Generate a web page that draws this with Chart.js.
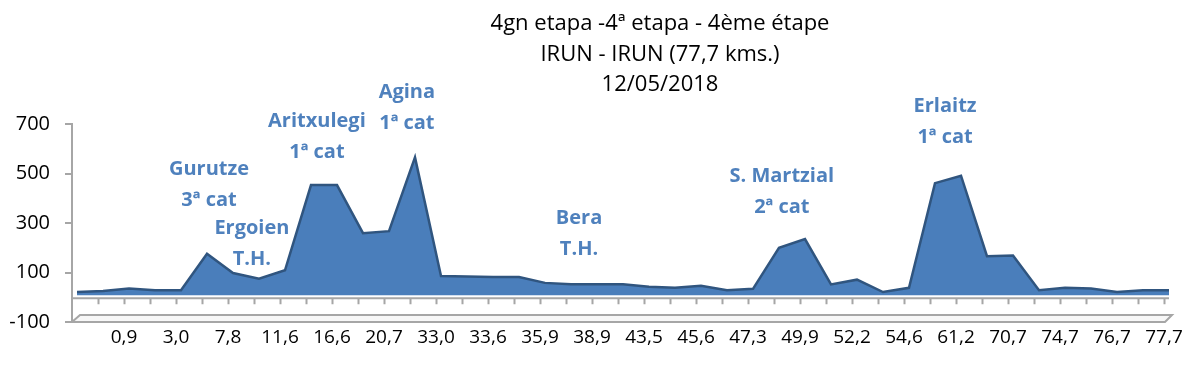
<!DOCTYPE html>
<html>
<head>
<meta charset="utf-8">
<script src="https://cdn.jsdelivr.net/npm/chart.js@4/dist/chart.umd.min.js"></script>
<style>
  html, body { margin: 0; padding: 0; background: #fff; }
  #wrap { width: 1200px; height: 379px; position: relative; }
</style>
</head>
<body>
<div id="wrap"><canvas id="c" width="1200" height="379"></canvas></div>
<script>
// ---- data ----
const titleLines = ['4gn etapa -4ª etapa - 4ème étape', 'IRUN - IRUN (77,7 kms.)', '12/05/2018'];
const categories = ['', '', '0,9', '', '3,0', '', '7,8', '', '11,6', '', '16,6', '', '20,7', '', '33,0', '',
  '33,6', '', '35,9', '', '38,9', '', '43,5', '', '45,6', '', '47,3', '', '49,9', '', '52,2', '',
  '54,6', '', '61,2', '', '70,7', '', '74,7', '', '76,7', '', '77,7'];
const altitudes = [13, 17, 27, 20, 20, 168, 90, 67, 101, 445, 445, 251, 259, 557, 78, 76,
  74, 74, 50, 44, 44, 44, 34, 30, 38, 20, 26, 192, 227, 44, 63, 13,
  30, 453, 483, 158, 161, 20, 30, 27, 13, 20, 20];
const yTicks = [-100, 100, 300, 500, 700];
const climbNames = [
  ['Gurutze', '3ª cat'],
  ['Ergoien', 'T.H.'],
  ['Aritxulegi', '1ª cat'],
  ['Agina', '1ª cat'],
  ['Bera', 'T.H.'],
  ['S. Martzial', '2ª cat'],
  ['Erlaitz', '1ª cat']
];
// anchor of each label's first line, in (category index, altitude) units
const climbAnchors = [
  [5.27, 518], [6.92, 280], [9.42, 712], [12.88, 829], [19.5, 320], [27.3, 490], [33.58, 773]
];

const FONT = "'Open Sans', 'Noto Sans', sans-serif";
const DEPTH_X = 5, DEPTH_Y = -2;

const floorPlugin = {
  id: 'floor3d',
  beforeDatasetsDraw(chart) {
    const { ctx, scales: { x, y } } = chart;
    const y0 = y.getPixelForValue(0);
    const yb = y.getPixelForValue(y.min);
    const xl = x.getPixelForValue(0);
    const xr = x.getPixelForValue(categories.length - 1);
    ctx.save();
    ctx.lineWidth = 2;
    ctx.strokeStyle = '#a6a6a6';
    // front slab
    ctx.fillStyle = '#f7f7f7';
    ctx.beginPath();
    ctx.moveTo(xl, yb);
    ctx.lineTo(xr + 1, yb);
    ctx.lineTo(xr + 8, yb - 7);
    ctx.lineTo(xl + 8, yb - 7);
    ctx.closePath();
    ctx.fill();
    ctx.stroke();
    // back floor edge
    ctx.beginPath();
    ctx.moveTo(xl, y0 + 1);
    ctx.lineTo(xr + DEPTH_X, y0 + 1);
    ctx.stroke();
    // category tick marks
    ctx.beginPath();
    for (let i = 1; i < categories.length; i++) {
      const px = Math.round(x.getPixelForValue(i)) + 0.5;
      ctx.moveTo(px, y0 + 1);
      ctx.lineTo(px, y0 + 7);
    }
    ctx.stroke();
    ctx.restore();
    ctx.save();
    ctx.translate(DEPTH_X, DEPTH_Y);
  },
  afterDatasetsDraw(chart) {
    chart.ctx.restore();
  }
};

const textPlugin = {
  id: 'texts',
  afterDraw(chart) {
    const { ctx, scales: { x, y } } = chart;
    ctx.save();
    ctx.textAlign = 'center';
    ctx.textBaseline = 'middle';
    // title
    ctx.fillStyle = '#000';
    ctx.font = "22px " + FONT;
    titleLines.forEach((t, i) => ctx.fillText(t, 660, 24 + i * 30.5));
    // climb labels
    ctx.fillStyle = '#4f81bd';
    ctx.font = "bold 20px " + FONT;
    climbNames.forEach((lines, k) => {
      const px = x.getPixelForValue(climbAnchors[k][0]);
      const py = y.getPixelForValue(climbAnchors[k][1]);
      lines.forEach((t, j) => ctx.fillText(t, px, py + j * 31));
    });
    ctx.restore();
  }
};

new Chart(document.getElementById('c'), {
  type: 'line',
  data: {
    labels: categories,
    datasets: [{
      data: altitudes,
      fill: 'origin',
      backgroundColor: '#4a7ebb',
      borderColor: '#30557f',
      borderWidth: 2.5,
      pointRadius: 0,
      pointHoverRadius: 0,
      tension: 0,
      clip: false
    }]
  },
  options: {
    responsive: false,
    animation: false,
    events: [],
    layout: { padding: { top: 124, right: 36, left: 0, bottom: 0 } },
    plugins: { legend: { display: false }, title: { display: false }, tooltip: { enabled: false } },
    scales: {
      x: {
        type: 'category',
        offset: false,
        grid: { display: false, drawTicks: false },
        border: { display: false },
        ticks: {
          autoSkip: false, maxRotation: 0, minRotation: 0, padding: 4,
          color: '#000', font: { family: FONT, size: 19 }
        },
        afterFit(s) { s.height = 57; }
      },
      y: {
        min: -100, max: 700,
        afterBuildTicks(s) { s.ticks = yTicks.map(v => ({ value: v })); },
        grid: { display: true, drawOnChartArea: false, drawTicks: true, tickLength: 7, color: '#a6a6a6', lineWidth: 2 },
        border: { display: true, color: '#a6a6a6', width: 2 },
        ticks: { padding: 15, color: '#000', font: { family: FONT, size: 20 } },
        afterFit(s) { s.width = 72; }
      }
    }
  },
  plugins: [floorPlugin, textPlugin]
});
</script>
</body>
</html>
